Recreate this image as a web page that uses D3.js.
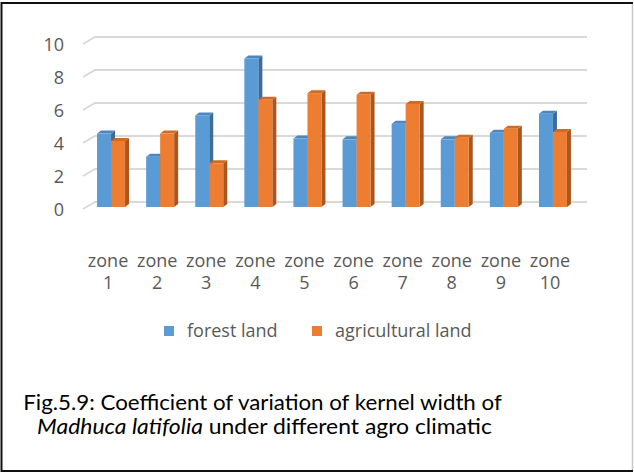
<!DOCTYPE html>
<html>
<head>
<meta charset="utf-8">
<script src="https://cdn.jsdelivr.net/npm/d3@7"></script>
<style>
  body { margin: 0; background: #fff; }
  svg { display: block; }
</style>
</head>
<body>
<svg id="chart" width="634" height="474"></svg>
<script>
// Coefficient of variation of kernel width, by agro-climatic zone
const zones = ["zone 1", "zone 2", "zone 3", "zone 4", "zone 5", "zone 6", "zone 7", "zone 8", "zone 9", "zone 10"];
const forestLand = [4.45, 3.05, 5.55, 9.0, 4.15, 4.1, 5.05, 4.1, 4.5, 5.65];
const agriculturalLand = [4.0, 4.45, 2.65, 6.5, 6.9, 6.8, 6.25, 4.2, 4.75, 4.55];
const seriesNames = ["forest land", "agricultural land"];
const yTicks = [0, 2, 4, 6, 8, 10];

const frontColors = ["#5b9bd5", "#ed7d31"];
const topColors = ["#4d85bd", "#cf6b26"];
const sideColors = ["#3d6c98", "#a9561f"];

const svg = d3.select("#chart");
const labelFont = "'Open Sans', sans-serif";
const axisGrey = "#595959";

// 3D geometry: back wall is offset up-right from the bar front plane
const wallDx = 12, wallDy = 7;      // side-wall depth of gridlines
const barDx = 4, barDy = 3;         // bar depth

const x = d3.scaleBand().domain(zones).range([86.5, 577.5]).paddingInner(0.43).paddingOuter(0.215);
const xSeries = d3.scaleBand().domain(seriesNames).range([0, x.bandwidth()]);
const yBack = d3.scaleLinear().domain([0, 10]).range([202, 37]);
const yFront = d3.scaleLinear().domain([0, 10]).range([207, 42]);
const yLabel = d3.scaleLinear().domain([0, 10]).range([202 + wallDy + 1, 37 + wallDy + 1]);

// Gridlines: slanted floor edge plus back-wall line
const wallLeft = 95, wallRight = 587;
const grid = svg.append("g").attr("fill", "none").attr("stroke", "#d9d9d9").attr("stroke-width", 2);
grid.selectAll("path").data(yTicks).join("path")
  .attr("d", v => `M${wallLeft - wallDx},${yBack(v) + wallDy}L${wallLeft},${yBack(v)}L${wallRight},${yBack(v)}`);

// Y axis labels
const yAxis = svg.append("g").attr("transform", "translate(64,0)")
  .call(d3.axisLeft(yLabel).tickValues(yTicks).tickSize(0).tickPadding(0));
yAxis.select(".domain").remove();
yAxis.selectAll("text").attr("font-family", labelFont).attr("font-size", 18).attr("fill", axisGrey);

// Bars
const seriesValues = [forestLand, agriculturalLand];
const zoneGroups = svg.append("g").selectAll("g").data(zones).join("g")
  .attr("transform", d => `translate(${x(d)},0)`);

zoneGroups.each(function(z, i) {
  const g = d3.select(this);
  seriesNames.forEach((s, k) => {
    const v = seriesValues[k][i];
    const x0 = xSeries(s), w = xSeries.bandwidth();
    const yt = yFront(v), yb = yFront(0);
    g.append("path").attr("fill", sideColors[k])
      .attr("d", `M${x0 + w},${yt}L${x0 + w + barDx},${yt - barDy}L${x0 + w + barDx},${yb - barDy}L${x0 + w},${yb}Z`);
    g.append("path").attr("fill", topColors[k])
      .attr("d", `M${x0},${yt}L${x0 + barDx},${yt - barDy}L${x0 + w + barDx},${yt - barDy}L${x0 + w},${yt}Z`);
    g.append("rect").attr("fill", frontColors[k])
      .attr("x", x0).attr("y", yt).attr("width", w).attr("height", yb - yt);
  });
});

// Category labels, two lines each
const catLabels = svg.append("g").selectAll("text").data(zones).join("text")
  .attr("text-anchor", "middle")
  .attr("font-family", labelFont).attr("font-size", 18).attr("fill", axisGrey)
  .attr("transform", d => `translate(${x(d) + x.bandwidth() / 2 - 3},0)`);
catLabels.append("tspan").attr("x", 0).attr("y", 267).text(d => d.split(" ")[0]);
catLabels.append("tspan").attr("x", 0).attr("y", 289).text(d => d.split(" ")[1]);

// Legend
const legendX = [164, 312];
const legend = svg.append("g").selectAll("g").data(seriesNames).join("g")
  .attr("transform", (d, i) => `translate(${legendX[i]},326)`);
legend.append("rect").attr("width", 10).attr("height", 10).attr("fill", (d, i) => frontColors[i]);
legend.append("text").attr("x", 23).attr("y", 11)
  .attr("font-family", labelFont).attr("font-size", 18).attr("fill", axisGrey)
  .text(d => d);

// Caption
const captionFont = "Lato, 'Noto Sans', sans-serif";
function fitText(sel, cx, width) {
  const w = sel.node().getComputedTextLength();
  const s = width / w;
  sel.attr("transform", `translate(${cx},0) scale(${s},1)`);
}
const line1 = svg.append("text").attr("x", 0).attr("y", 410).attr("text-anchor", "middle")
  .attr("font-family", captionFont).attr("font-size", 20.5).attr("fill", "#000")
  .text("Fig.5.9: Coefficient of variation of kernel width of");
fitText(line1, 262.5, 479);

const line2 = svg.append("text").attr("x", 0).attr("y", 434).attr("text-anchor", "middle")
  .attr("font-family", captionFont).attr("font-size", 20.5).attr("fill", "#000");
line2.append("tspan").attr("font-style", "italic").text("Madhuca latifolia");
line2.append("tspan").text(" under different agro climatic");
fitText(line2, 264.5, 455);

// Frame
svg.append("path").attr("fill", "none").attr("stroke", "#111").attr("stroke-width", 2)
  .attr("d", "M633,3H1.5V471H633");
svg.append("line").attr("x1", 632.5).attr("x2", 632.5).attr("y1", 4).attr("y2", 470)
  .attr("stroke", "#c8c8c8").attr("stroke-width", 1.5);
</script>
</body>
</html>
